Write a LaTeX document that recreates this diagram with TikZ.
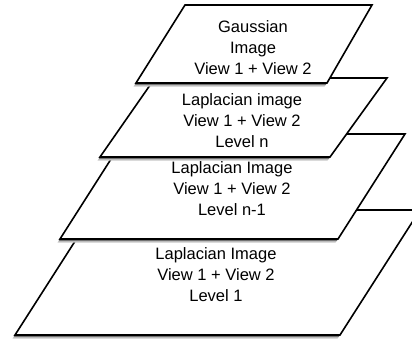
\documentclass[tikz,border=0pt]{standalone}
\usepackage{fontspec}
\setmainfont{Liberation Sans}
\begin{document}
\begin{tikzpicture}[x=1pt,y=-1pt,
  layer/.style={draw=black, line width=1.6pt, fill=white, line join=miter},
  shadowa/.style={fill=black!22},
  shadowb/.style={fill=black!55},
  lbl/.style={align=center, font=\fontsize{16.5}{21}\selectfont, inner sep=0pt}]
\useasboundingbox (0,0) rectangle (412,343);
\clip (0,0) rectangle (412,343);
% Level 1
\fill[shadowa, xshift=-2.5pt, yshift=-3.5pt] (95,210) -- (420,210) -- (340,335) -- (15,335) -- cycle;
\fill[shadowb, xshift=-1.2pt, yshift=-2pt] (95,210) -- (420,210) -- (340,335) -- (15,335) -- cycle;
\draw[layer] (95,210) -- (420,210) -- (340,335) -- (15,335) -- cycle;
% Level n-1
\fill[shadowa, xshift=-2.5pt, yshift=-3.5pt] (127,134) -- (405,134) -- (338,239) -- (60,239) -- cycle;
\fill[shadowb, xshift=-1.2pt, yshift=-2pt] (127,134) -- (405,134) -- (338,239) -- (60,239) -- cycle;
\draw[layer] (127,134) -- (405,134) -- (338,239) -- (60,239) -- cycle;
% Level n
\fill[shadowa, xshift=-2.5pt, yshift=-3.5pt] (155,78) -- (387,78) -- (330,157) -- (100,157) -- cycle;
\fill[shadowb, xshift=-1.2pt, yshift=-2pt] (155,78) -- (387,78) -- (330,157) -- (100,157) -- cycle;
\draw[layer] (155,78) -- (387,78) -- (330,157) -- (100,157) -- cycle;
% Gaussian
\fill[shadowa, xshift=-2.5pt, yshift=-3.5pt] (185,5) -- (372,5) -- (327,83) -- (136,83) -- cycle;
\fill[shadowb, xshift=-1.2pt, yshift=-2pt] (185,5) -- (372,5) -- (327,83) -- (136,83) -- cycle;
\draw[layer] (185,5) -- (372,5) -- (327,83) -- (136,83) -- cycle;
% labels
\node[lbl] (l1) at (216,275) {Laplacian Image\\View 1 + View 2\\Level 1};
\node[lbl] (ln1) at (232,189) {Laplacian Image\\View 1 + View 2\\Level n-1};
\node[lbl] (ln) at (242,121) {Laplacian image\\View 1 + View 2\\Level n};
\node[lbl] (g) at (253,48) {Gaussian\\Image\\View 1 + View 2};
\end{tikzpicture}
\end{document}
